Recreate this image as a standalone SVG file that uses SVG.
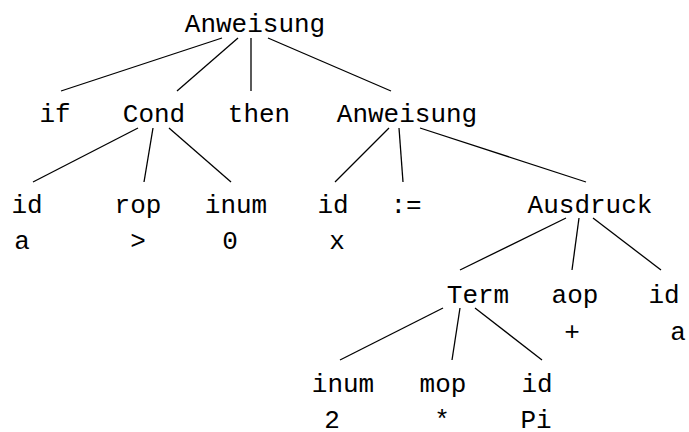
<svg xmlns="http://www.w3.org/2000/svg" width="689" height="432" viewBox="0 0 689 432">
<style>
text{font-family:"Liberation Mono","Courier New",monospace;font-size:26px;fill:#000;text-anchor:middle}
line{stroke:#000;stroke-width:1.3}
</style>
<rect width="689" height="432" fill="#fff"/>
<g id="connectors">
<line x1="222" y1="38" x2="61" y2="91"/>
<line x1="238" y1="38" x2="177" y2="91"/>
<line x1="251" y1="38" x2="251" y2="91"/>
<line x1="268" y1="38" x2="391" y2="91"/>
<line x1="138" y1="128" x2="33" y2="182"/>
<line x1="153" y1="128" x2="144" y2="182"/>
<line x1="169" y1="128" x2="231" y2="182"/>
<line x1="389" y1="128" x2="335" y2="182"/>
<line x1="399" y1="128" x2="403" y2="182"/>
<line x1="420" y1="128" x2="586" y2="182"/>
<line x1="566" y1="218" x2="460" y2="270"/>
<line x1="579" y1="218" x2="572" y2="270"/>
<line x1="593" y1="218" x2="661" y2="270"/>
<line x1="443" y1="308" x2="340" y2="360"/>
<line x1="460" y1="308" x2="452" y2="360"/>
<line x1="475" y1="308" x2="542" y2="360"/>
</g>
<g id="n_anweisung"><text x="255" y="32">Anweisung</text></g>
<g id="n_if"><text x="55" y="122">if</text></g>
<g id="n_cond"><text x="154" y="122">Cond</text></g>
<g id="n_then"><text x="259" y="122">then</text></g>
<g id="n_anweisung2"><text x="407" y="122">Anweisung</text></g>
<g id="n_id1"><text x="27" y="213">id</text><text x="22" y="249">a</text></g>
<g id="n_rop"><text x="138" y="213">rop</text><text x="138" y="249">&gt;</text></g>
<g id="n_inum1"><text x="236" y="213">inum</text><text x="230" y="249">0</text></g>
<g id="n_id2"><text x="333" y="213">id</text><text x="337" y="249">x</text></g>
<g id="n_assign"><text x="406" y="213">:=</text></g>
<g id="n_ausdruck"><text x="590" y="213">Ausdruck</text></g>
<g id="n_term"><text x="478" y="303">Term</text></g>
<g id="n_aop"><text x="575" y="303">aop</text><text x="572" y="340">+</text></g>
<g id="n_id3"><text x="664" y="303">id</text><text x="678" y="340">a</text></g>
<g id="n_inum2"><text x="343" y="392">inum</text><text x="332" y="428">2</text></g>
<g id="n_mop"><text x="443" y="392">mop</text><text x="442" y="428">*</text></g>
<g id="n_id4"><text x="537" y="392">id</text><text x="536" y="428">Pi</text></g>
</svg>
